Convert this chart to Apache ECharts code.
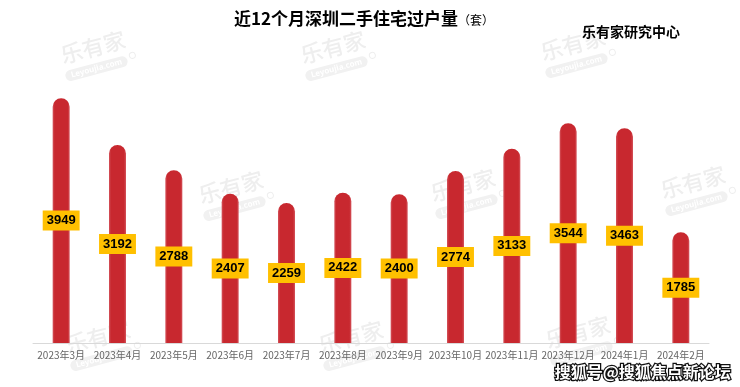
<!DOCTYPE html>
<html>
<head>
<meta charset="utf-8">
<script src="https://cdn.jsdelivr.net/npm/echarts@6/dist/echarts.min.js"></script>
<style>
  html, body { margin: 0; padding: 0; background: #fff; }
  #chart { width: 740px; height: 387px; }
</style>
</head>
<body>
<div id="chart"></div>
<script>
// Monthly second-hand housing transfers in Shenzhen (units)
const months = ['2023年3月', '2023年4月', '2023年5月', '2023年6月', '2023年7月', '2023年8月',
                '2023年9月', '2023年10月', '2023年11月', '2023年12月', '2024年1月', '2024年2月'];
const transfers = [3949, 3192, 2788, 2407, 2259, 2422, 2400, 2774, 3133, 3544, 3463, 1785];

// Brand watermark stamp positions (centre points)
const stampX = [95, 335, 575, 233, 465, 695, 100, 353, 580];
const stampY = [55, 55, 52, 195, 193, 190, 345, 345, 340];

const CJK = '"Noto Sans CJK SC", "Noto Sans", sans-serif';

function stamp(cx, cy) {
  return {
    type: 'group',
    x: cx, y: cy,
    rotation: 0.26,
    z: 0,
    silent: true,
    children: [
      {
        type: 'text',
        style: {
          text: '乐有家', x: 0, y: -8,
          font: '500 22px ' + CJK,
          fill: '#eeeeee', align: 'center', verticalAlign: 'middle'
        }
      },
      {
        type: 'rect',
        shape: { x: -34, y: 8, width: 64, height: 11, r: 5.5 },
        style: { fill: '#f1f1f1' }
      },
      {
        type: 'text',
        style: {
          text: 'Leyoujia.com', x: -2, y: 13.5,
          font: 'bold 8px "Noto Sans", sans-serif',
          fill: '#ffffff', align: 'center', verticalAlign: 'middle'
        }
      },
      {
        type: 'circle',
        shape: { cx: 36, cy: 10, r: 3 },
        style: { fill: 'none', stroke: '#eeeeee', lineWidth: 1 }
      }
    ]
  };
}

const chart = echarts.init(document.getElementById('chart'), null, { renderer: 'canvas' });

const graphics = stampX.map((x, i) => stamp(x, stampY[i]));
graphics.push(
  {
    type: 'text', left: 234, top: 10, z: 10,
    style: {
      text: '{m|近12个月深圳二手住宅过户量}{s|（套）}',
      rich: {
        m: { fontWeight: 'bold', fontSize: 17, fontFamily: CJK, color: '#000' },
        s: { fontSize: 12, fontFamily: CJK, color: '#000', padding: [3, 0, 0, 0] }
      }
    }
  },
  {
    type: 'text', left: 582, top: 25, z: 10,
    style: { text: '乐有家研究中心', font: 'bold 14px ' + CJK, fill: '#000' }
  },
  {
    type: 'text', right: 8, top: 363, z: 10,
    style: {
      text: '搜狐号@搜狐焦点新论坛',
      font: 'bold 16px ' + CJK,
      fill: '#ffffff', stroke: '#111', lineWidth: 2.5
    }
  }
);

chart.setOption({
  animation: false,
  backgroundColor: '#ffffff',
  grid: { left: 33, right: 31, top: 64, bottom: 44, containLabel: false },
  xAxis: {
    type: 'category',
    data: months,
    axisLine: { lineStyle: { color: '#d9d9d9', width: 1 } },
    axisTick: { show: false },
    axisLabel: { color: '#666666', fontSize: 10, fontFamily: CJK, margin: 7, interval: 0 }
  },
  yAxis: {
    type: 'value', min: 0, max: 4500,
    show: false,
    splitLine: { show: false }
  },
  graphic: graphics,
  series: [{
    type: 'bar',
    data: transfers,
    barWidth: 17,
    z: 2,
    itemStyle: {
      color: new echarts.graphic.LinearGradient(0, 0, 1, 0, [
        { offset: 0, color: '#d4545c' },
        { offset: 0.12, color: '#c8282f' },
        { offset: 0.88, color: '#c8282f' },
        { offset: 1, color: '#d4545c' }
      ]),
      borderRadius: [8.5, 8.5, 0, 0]
    },
    label: {
      show: true,
      position: 'inside',
      color: '#000',
      fontWeight: 'bold',
      fontSize: 13,
      fontFamily: '"Liberation Sans", "Noto Sans", sans-serif',
      backgroundColor: '#ffc000',
      padding: [4, 4, 3, 4]
    }
  }]
});
</script>
</body>
</html>
